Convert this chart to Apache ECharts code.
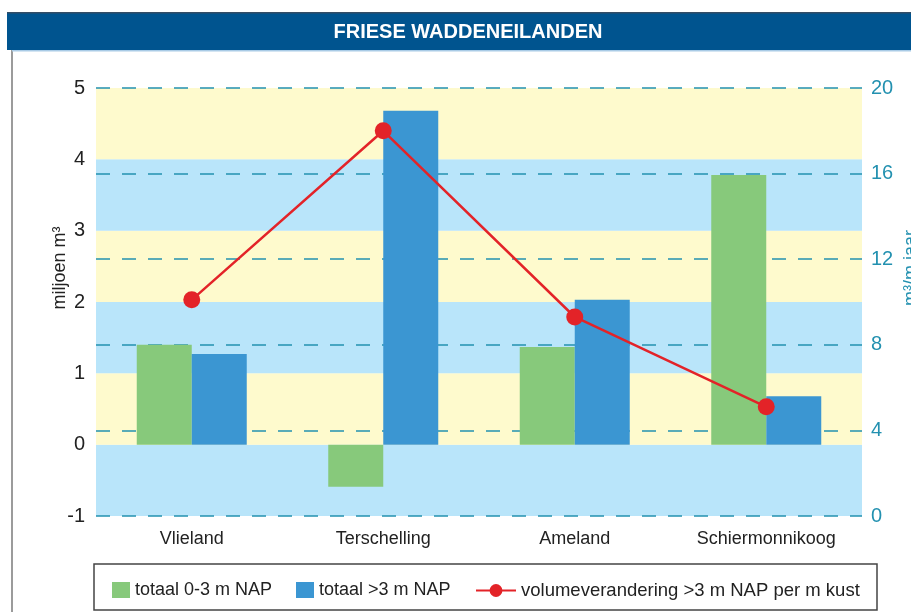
<!DOCTYPE html>
<html>
<head>
<meta charset="utf-8">
<script src="https://cdn.jsdelivr.net/npm/echarts@6/dist/echarts.min.js"></script>
<style>
  html, body { margin: 0; padding: 0; background: #fff; }
  #chart { width: 911px; height: 612px; }
</style>
</head>
<body>
<div id="chart"></div>
<script>
// data
var categories = ['Vlieland', 'Terschelling', 'Ameland', 'Schiermonnikoog'];
var totaal03 = [1.40, -0.59, 1.37, 3.78];   // miljoen m3
var totaal3 = [1.27, 4.68, 2.03, 0.68];     // miljoen m3
var volume = [10.1, 18.0, 9.3, 5.1];         // m3/m jaar
var leftTicks = [-1, 0, 1, 2, 3, 4, 5];
var rightTicks = [0, 4, 8, 12, 16, 20];

var names = ['totaal 0-3 m NAP', 'totaal >3 m NAP', 'volumeverandering >3 m NAP per m kust'];

var font = 'Liberation Sans';
var teal = '#2391b0';

var myChart = echarts.init(document.getElementById('chart'), null, { renderer: 'canvas' });

var option = {
  animation: false,
  textStyle: { fontFamily: font },
  graphic: [
    // frame line on the left
    { type: 'line', shape: { x1: 12, y1: 50, x2: 12, y2: 612 }, style: { stroke: '#7a7a7a', lineWidth: 1.5 }, z: 0 },
    // title bar
    { type: 'rect', shape: { x: 7, y: 12, width: 904, height: 38 }, style: { fill: '#00548f' }, z: 0 },
    { type: 'rect', shape: { x: 7, y: 12, width: 904, height: 1.5 }, style: { fill: '#334d66' }, z: 1 },
    { type: 'rect', shape: { x: 12, y: 50, width: 899, height: 1.5 }, style: { fill: '#a9cbe6' }, z: 1 },
    {
      type: 'text', x: 468, y: 32, z: 2,
      style: {
        text: 'FRIESE WADDENEILANDEN', fill: '#fff', align: 'center', verticalAlign: 'middle',
        font: 'bold 20px "Liberation Sans", sans-serif'
      }
    },
    // axis names
    {
      type: 'text', x: 60, y: 268, rotation: Math.PI / 2,
      style: { text: 'miljoen m³', fill: '#222', align: 'center', verticalAlign: 'middle', font: '18px ' + font }
    },
    {
      type: 'text', x: 911, y: 268, rotation: Math.PI / 2,
      style: { text: 'm³/m jaar', fill: teal, align: 'center', verticalAlign: 'middle', font: '18px ' + font }
    },
    // legend box
    { type: 'rect', shape: { x: 94, y: 564, width: 783, height: 46 }, style: { fill: 'none', stroke: '#444', lineWidth: 1.5 } }
  ],
  legend: [
    {
      data: [names[0]], left: 107, top: 576, itemWidth: 18, itemHeight: 16, icon: 'rect',
      textStyle: { fontSize: 18, color: '#222', fontFamily: font }
    },
    {
      data: [names[1]], left: 291, top: 576, itemWidth: 18, itemHeight: 16, icon: 'rect',
      textStyle: { fontSize: 18, color: '#222', fontFamily: font }
    },
    {
      data: [names[2]], left: 470, top: 576, itemWidth: 40, itemHeight: 16,
      textStyle: { fontSize: 18.5, color: '#222', fontFamily: font }
    }
  ],
  grid: { left: 96, right: 49, top: 88, bottom: 96 },
  xAxis: {
    type: 'category',
    data: categories,
    axisLine: { show: false },
    axisTick: { show: false },
    axisLabel: { color: '#222', fontSize: 18, margin: 14, fontFamily: font }
  },
  yAxis: [
    {
      type: 'value',
      min: leftTicks[0],
      max: leftTicks[leftTicks.length - 1],
      interval: 1,
      axisLine: { show: false },
      axisTick: { show: false },
      axisLabel: { color: '#222', fontSize: 20, margin: 11, fontFamily: font },
      splitLine: { show: false },
      splitArea: { show: true, areaStyle: { color: ['#b9e5fa', '#fefacd'] } }
    },
    {
      type: 'value',
      min: rightTicks[0],
      max: rightTicks[rightTicks.length - 1],
      interval: 4,
      position: 'right',
      axisLine: { show: false },
      axisTick: { show: false },
      axisLabel: { color: teal, fontSize: 20, margin: 9, fontFamily: font },
      splitLine: { show: true, lineStyle: { color: teal, width: 1.5, type: [14, 12] } }
    }
  ],
  series: [
    {
      name: names[0], type: 'bar', data: totaal03, barWidth: 55, barGap: 0,
      itemStyle: { color: '#87c97b' }, z: 3
    },
    {
      name: names[1], type: 'bar', data: totaal3, barWidth: 55, barGap: 0,
      itemStyle: { color: '#3b96d2' }, z: 3
    },
    {
      name: names[2], type: 'line', yAxisIndex: 1, data: volume,
      symbol: 'circle', symbolSize: 17,
      lineStyle: { color: '#e32328', width: 2.5 },
      itemStyle: { color: '#e32328' }, z: 5
    }
  ]
};

myChart.setOption(option);
window.addEventListener('resize', myChart.resize);
</script>
</body>
</html>
